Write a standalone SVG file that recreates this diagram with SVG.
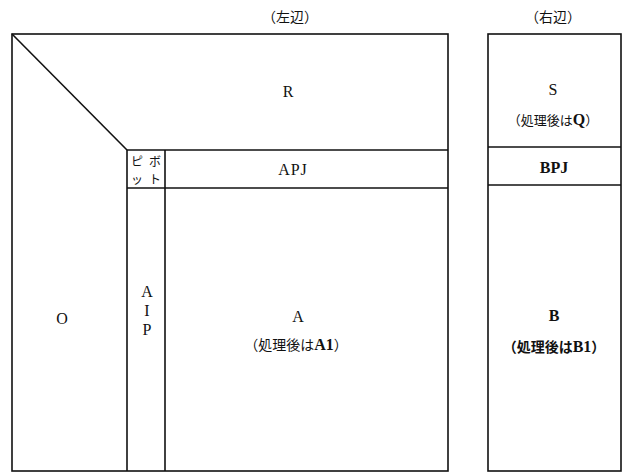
<svg xmlns="http://www.w3.org/2000/svg" width="625" height="472" viewBox="0 0 625 472">
<style>
.ln{fill:none;stroke:#111;stroke-width:1.6}
.t{font-family:"Liberation Serif","Noto Sans CJK JP",serif;font-size:16px;fill:#111;text-anchor:middle;dominant-baseline:central}
.j{font-family:"Noto Sans CJK JP","Liberation Serif",serif;font-size:14px;fill:#111;text-anchor:middle;dominant-baseline:central}
.p{font-size:12px}
.b{font-weight:bold}
</style>
<rect width="625" height="472" fill="#fff"/>
<text class="j" x="290" y="16">（左辺）</text>
<text class="j" x="553" y="16">（右辺）</text>
<g id="left-matrix">
<rect class="ln" x="12" y="34" width="436" height="437"/>
</g>
<g id="connectors">
<line class="ln" x1="12" y1="34" x2="127" y2="150"/>
<line class="ln" x1="127" y1="150" x2="448" y2="150"/>
<line class="ln" x1="127" y1="188" x2="448" y2="188"/>
<line class="ln" x1="127" y1="150" x2="127" y2="471"/>
<line class="ln" x1="165" y1="150" x2="165" y2="471"/>
<line class="ln" x1="488" y1="147" x2="621" y2="147"/>
<line class="ln" x1="488" y1="185" x2="621" y2="185"/>
</g>
<g id="R"><text class="t" x="288" y="91">R</text></g>
<g id="pivot">
<text class="j p" x="137" y="160">ピ</text>
<text class="j p" x="155" y="160">ボ</text>
<text class="j p" x="137" y="178">ッ</text>
<text class="j p" x="155" y="178">ト</text>
</g>
<g id="APJ"><text class="t" x="293" y="169" letter-spacing="1">APJ</text></g>
<g id="O"><text class="t" x="62" y="318">O</text></g>
<g id="AIP">
<text class="t" x="147" y="291">A</text>
<text class="t" x="147" y="310">I</text>
<text class="t" x="147" y="329">P</text>
</g>
<g id="A">
<text class="t" x="298" y="316">A</text>
<text class="t" x="296" y="344"><tspan class="j">（処理後は</tspan><tspan class="b">A1</tspan><tspan class="j">）</tspan></text>
</g>
<g id="right-matrix">
<rect class="ln" x="488" y="34" width="133" height="437"/>
</g>
<g id="S">
<text class="t" x="553" y="89">S</text>
<text class="t" x="553" y="119"><tspan class="j" style="font-size:13px">（処理後は</tspan><tspan class="b">Q</tspan><tspan class="j" style="font-size:13px">）</tspan></text>
</g>
<g id="BPJ"><text class="t b" x="554" y="167">BPJ</text></g>
<g id="B">
<text class="t b" x="554" y="315">B</text>
<text class="t b" x="554" y="346"><tspan class="j">（処理後は</tspan>B1<tspan class="j">）</tspan></text>
</g>
</svg>
